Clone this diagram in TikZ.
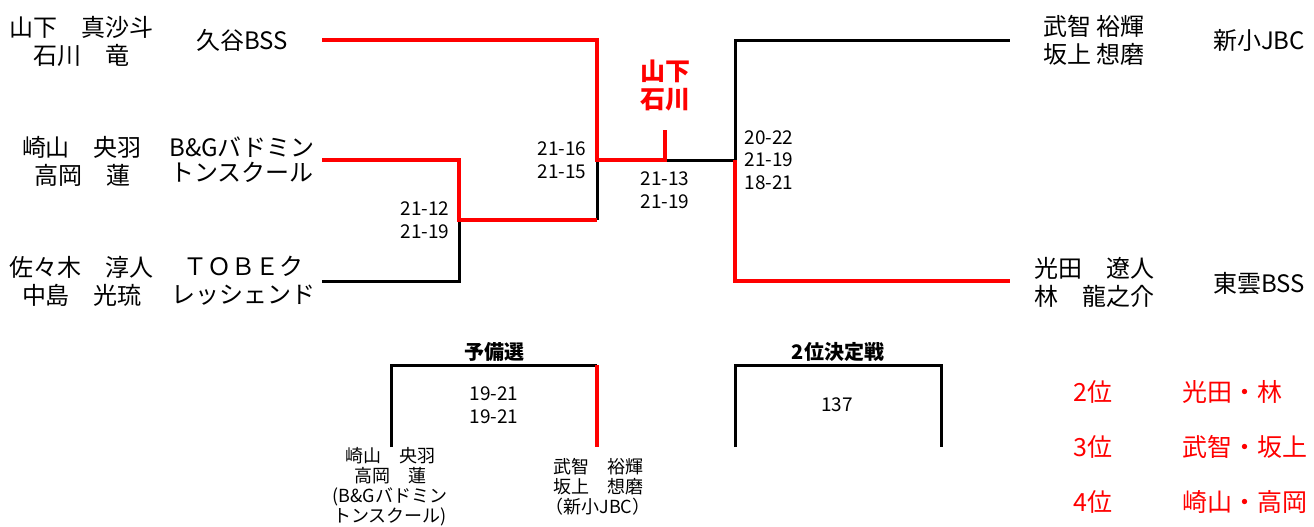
\documentclass[tikz,border=0pt]{standalone}
\usepackage{fontspec}
\setmainfont{Noto Sans CJK JP}
\begin{document}
\begin{tikzpicture}[x=0.5pt,y=-0.5pt,line join=miter,
  nm/.style={inner sep=0pt,align=center,font=\fontsize{12}{14}\selectfont},
  sc/.style={inner sep=0pt,align=center,font=\fontsize{9.5}{11.25}\selectfont},
  sm/.style={inner sep=0pt,align=center,font=\fontsize{9}{10}\selectfont},
  hd/.style={inner sep=0pt,font=\fontsize{10}{12}\selectfont\bfseries},
  rk/.style={inner sep=0pt,anchor=west,text=red,font=\fontsize{12.5}{14}\selectfont},
  win/.style={draw=red,line width=2.2pt},
  lose/.style={draw=black,line width=1.5pt}]
\useasboundingbox (0,0) rectangle (1314,526);
\node[nm] (p1) at (82,41) {山下　真沙斗\\石川　竜};
\node[nm] (t1) at (242,40) {久谷BSS};
\node[nm] (p2) at (82,161) {崎山　央羽\\高岡　蓮};
\node[nm,font=\fontsize{12}{12.5}\selectfont] (t2) at (242,160) {B\&Gバドミン\\トンスクール};
\node[nm] (p3) at (82,281) {佐々木　淳人\\中島　光琉};
\node[nm] (t3) at (243,281) {ＴＯＢＥク\\レッシェンド};
\node[nm] (p4) at (1094,40) {武智 裕輝\\坂上 想磨};
\node[nm] (t4) at (1259,40) {新小JBC};
\node[nm] (p5) at (1094,282) {光田　遼人\\林　龍之介};
\node[nm] (t5) at (1259,283) {東雲BSS};
\node[nm,text=red,font=\fontsize{12.5}{14}\selectfont\bfseries] (ch) at (665,86) {山下\\石川};
\node[sc] (s1) at (425,220) {21-12\\21-19};
\node[sc] (s2) at (562,160) {21-16\\21-15};
\node[sc] (s3) at (665,190) {21-13\\21-19};
\node[sc] (s4) at (769,160) {20-22\\21-19\\18-21};
\coordinate (k0) at (322,40);  \coordinate (k1) at (597,40);
\coordinate (b0) at (322,160); \coordinate (b1) at (459,160);
\coordinate (d0) at (322,281); \coordinate (d1) at (459,281);
\coordinate (e1) at (459,220); \coordinate (e2) at (597,220);
\coordinate (m) at (597,160);  \coordinate (w) at (665,160);
\coordinate (w1) at (665,130); \coordinate (f) at (735,160);
\coordinate (r0) at (735,40);  \coordinate (r1) at (1010,40);
\coordinate (q0) at (735,281); \coordinate (q1) at (1010,281);
\draw[lose] (e1)--(d1)--(d0);
\draw[lose] (e2)--(m);
\draw[lose] (w)--(f)--(r0)--(r1);
\draw[win] (k0)--(k1)--(m)--(w)--(w1);
\draw[win] (b0)--(b1)--(e1)--(e2);
\draw[win] (f)--(q0)--(q1);
\node[hd] (h1) at (494,352) {予備選};
\node[hd] (h2) at (838,352) {2位決定戦};
\node[sc] (s5) at (494,405) {19-21\\19-21};
\node[sc] (s6) at (837,405) {137};
\node[sm] (y1) at (390,487) {崎山　央羽\\高岡　蓮\\(B\&Gバドミン\\トンスクール)};
\node[sm] (y2) at (598,487) {武智　裕輝\\坂上　想磨\\（新小JBC）};
\coordinate (g0) at (391,447); \coordinate (g1) at (391,365);
\coordinate (g2) at (597,365); \coordinate (g3) at (597,447);
\coordinate (c0) at (735,447); \coordinate (c1) at (735,365);
\coordinate (c2) at (941,365); \coordinate (c3) at (941,447);
\draw[lose] (g0)--(g1)--(g2);
\draw[win] (g2)--(g3);
\draw[lose] (c0)--(c1)--(c2)--(c3);
\foreach \i/\y/\t in {2/392/光田・林,3/447/武智・坂上,4/502/崎山・高岡}{
  \node[rk] (r\i) at (1073,\y) {{\i}位};
  \node[rk] (n\i) at (1182,\y) {\t};
}
\end{tikzpicture}
\end{document}
